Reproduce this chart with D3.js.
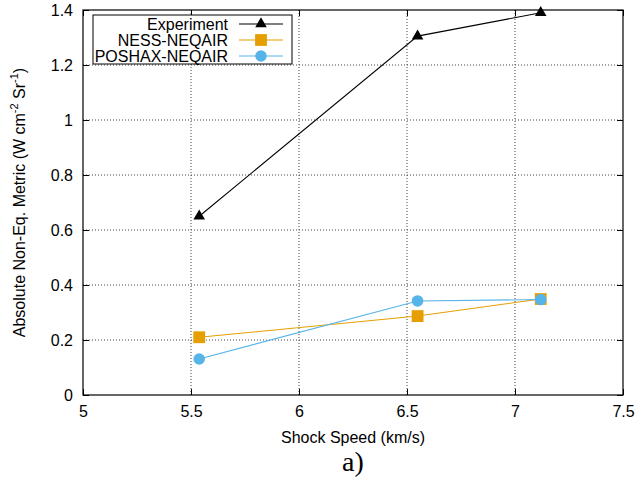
<!DOCTYPE html>
<html>
<head>
<meta charset="utf-8">
<script src="https://cdn.jsdelivr.net/npm/d3@7"></script>
<style>
body{margin:0;background:#fff;}
text{font-family:"Liberation Sans",Arial,sans-serif;}
</style>
</head>
<body>
<svg id="chart" width="637" height="487"></svg>
<script>
var speeds = [5.538, 6.549, 7.119];
var experiment = [0.65, 1.305, 1.39];
var nessNeqair = [0.21, 0.287, 0.349];
var poshaxNeqair = [0.131, 0.342, 0.347];
var xTicks = [5, 5.5, 6, 6.5, 7, 7.5];
var yTicks = [0, 0.2, 0.4, 0.6, 0.8, 1, 1.2, 1.4];

var svg = d3.select("#chart");
var plotL = 83, plotR = 623, plotT = 10, plotB = 395;
var fs = 16;

var x = d3.scaleLinear().domain([5,7.5]).range([plotL,plotR]);
var y = d3.scaleLinear().domain([0,1.4]).range([plotB,plotT]);

// grid
var grid = svg.append("g");
grid.selectAll(null).data(xTicks.slice(1,-1)).enter().append("line")
	.attr("x1",function(d){return x(d);}).attr("x2",function(d){return x(d);})
	.attr("y1",plotT).attr("y2",plotB)
	.attr("stroke","#444").attr("stroke-width",1).attr("stroke-dasharray","1,2");
grid.selectAll(null).data(yTicks.slice(1,-1)).enter().append("line")
	.attr("y1",function(d){return y(d);}).attr("y2",function(d){return y(d);})
	.attr("x1",plotL).attr("x2",plotR)
	.attr("stroke","#444").attr("stroke-width",1).attr("stroke-dasharray","1,2");

// axes
var fmt = function(d){return d3.format("")(d);};
var xAxis = svg.append("g").attr("transform","translate(0,"+plotB+")")
	.call(d3.axisBottom(x).tickValues(xTicks).tickSize(-6).tickPadding(11).tickFormat(fmt));
var xAxisTop = svg.append("g").attr("transform","translate(0,"+plotT+")")
	.call(d3.axisTop(x).tickValues(xTicks).tickSize(-6).tickFormat(""));
var yAxis = svg.append("g").attr("transform","translate("+plotL+",0)")
	.call(d3.axisLeft(y).tickValues(yTicks).tickSize(-6).tickPadding(10).tickFormat(fmt));
var yAxisRight = svg.append("g").attr("transform","translate("+plotR+",0)")
	.call(d3.axisRight(y).tickValues(yTicks).tickSize(-6).tickFormat(""));
[xAxis,xAxisTop,yAxis,yAxisRight].forEach(function(a){
	a.select(".domain").remove();
	a.selectAll("line").attr("stroke","#000");
	a.selectAll("text").attr("font-size",fs).attr("fill","#000")
		.style("font-family","'Liberation Sans',Arial,sans-serif");
});

svg.append("rect").attr("x",plotL).attr("y",plotT)
	.attr("width",plotR-plotL).attr("height",plotB-plotT)
	.attr("fill","none").attr("stroke","#000").attr("stroke-width",1.2);

// series
var series = [
	{name:"Experiment", values:experiment, color:"#000", marker:"triangle"},
	{name:"NESS-NEQAIR", values:nessNeqair, color:"#E69F00", marker:"square"},
	{name:"POSHAX-NEQAIR", values:poshaxNeqair, color:"#56B4E9", marker:"circle"}
];
var symbols = {triangle:d3.symbolTriangle, square:d3.symbolSquare, circle:d3.symbolCircle};
var sizes = {triangle:58, square:140, circle:105};

var line = d3.line().x(function(d){return x(d[0]);}).y(function(d){return y(d[1]);});

series.forEach(function(s){
	var pts = speeds.map(function(v,i){return [v,s.values[i]];});
	svg.append("path").datum(pts).attr("d",line)
		.attr("fill","none").attr("stroke",s.color).attr("stroke-width",1.1);
	svg.selectAll(null).data(pts).enter().append("path")
		.attr("d",d3.symbol().type(symbols[s.marker]).size(sizes[s.marker]))
		.attr("transform",function(d){return "translate("+x(d[0])+","+y(d[1])+")";})
		.attr("fill",s.color);
});

// legend
var lg = svg.append("g");
lg.append("rect").attr("x",93).attr("y",15).attr("width",199).attr("height",49)
	.attr("fill","#fff").attr("stroke","#000").attr("stroke-width",1);
series.forEach(function(s,i){
	var ly = 24+i*16;
	lg.append("text").attr("x",228).attr("y",ly).attr("dy","0.35em")
		.attr("text-anchor","end").attr("font-size",fs).text(s.name);
	lg.append("line").attr("x1",239).attr("x2",283).attr("y1",ly).attr("y2",ly)
		.attr("stroke",s.color).attr("stroke-width",1.1);
	lg.append("path").attr("d",d3.symbol().type(symbols[s.marker]).size(sizes[s.marker]))
		.attr("transform","translate(261,"+ly+")").attr("fill",s.color);
});

// labels
svg.append("text").attr("x",(plotL+plotR)/2).attr("y",443)
	.attr("text-anchor","middle").attr("font-size",fs).text("Shock Speed (km/s)");

var yl = svg.append("text").attr("transform","translate(25,"+((plotT+plotB)/2)+") rotate(-90)")
	.attr("text-anchor","middle").attr("font-size",fs);
yl.append("tspan").text("Absolute Non-Eq. Metric (W cm");
yl.append("tspan").attr("dy",-7).attr("font-size",11).text("-2");
yl.append("tspan").attr("dy",7).text(" Sr");
yl.append("tspan").attr("dy",-7).attr("font-size",11).text("-1");
yl.append("tspan").attr("dy",7).text(")");

svg.append("text").attr("x",353).attr("y",471).attr("text-anchor","middle")
	.attr("font-size",28).style("font-family","'Liberation Serif','Times New Roman',serif")
	.text("a)");
</script>
</body>
</html>
